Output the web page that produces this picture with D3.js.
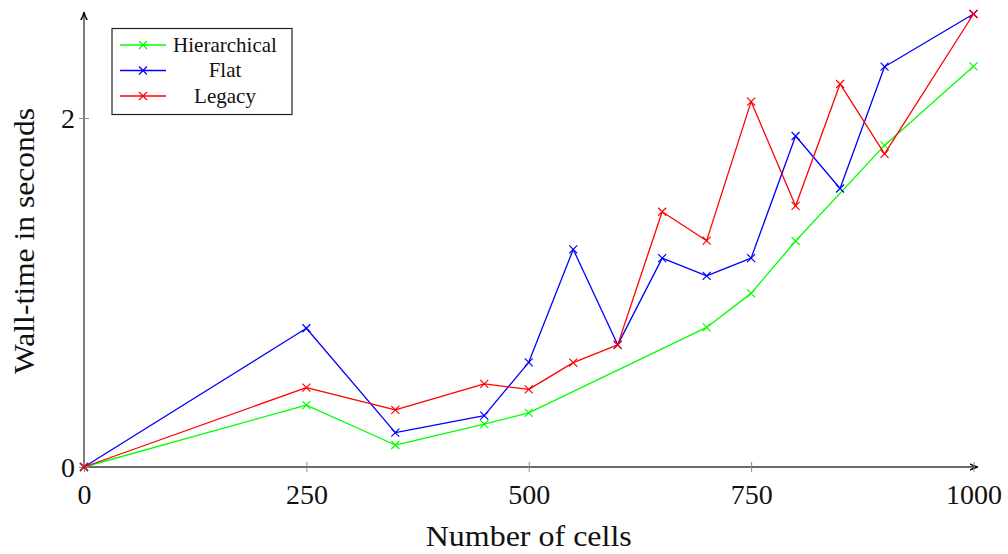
<!DOCTYPE html>
<html>
<head>
<meta charset="utf-8">
<script src="https://cdn.jsdelivr.net/npm/d3@7"></script>
<style>
  html, body { margin: 0; padding: 0; background: #fff; }
  svg { display: block; font-family: "Liberation Serif", "DejaVu Serif", serif; }
</style>
</head>
<body>
<svg id="chart" width="1008" height="554"></svg>
<script>
// Wall-time measurements (seconds) against number of cells
const hierarchicalCells = [0, 250, 350, 450, 500, 700, 750, 800, 900, 1000];
const hierarchicalTime  = [0, 0.355, 0.126, 0.246, 0.31, 0.80, 0.995, 1.295, 1.843, 2.296];

const flatCells = [0, 250, 350, 450, 500, 550, 600, 650, 700, 750, 800, 850, 900, 1000];
const flatTime  = [0, 0.795, 0.197, 0.294, 0.60, 1.247, 0.70, 1.197, 1.095, 1.197, 1.897, 1.596, 2.294, 2.596];

const legacyCells = [0, 250, 350, 450, 500, 550, 600, 650, 700, 750, 800, 850, 900, 1000];
const legacyTime  = [0, 0.455, 0.327, 0.476, 0.445, 0.598, 0.70, 1.463, 1.297, 2.094, 1.496, 2.195, 1.794, 2.596];

const seriesNames  = ["Hierarchical", "Flat", "Legacy"];
const seriesColors = ["#00ff00", "#0000ff", "#ff0000"];

const xTicks = [0, 250, 500, 750, 1000];
const yTicks = [0, 2];

const series = [
  { name: seriesNames[0], color: seriesColors[0], xs: hierarchicalCells, ys: hierarchicalTime },
  { name: seriesNames[1], color: seriesColors[1], xs: flatCells, ys: flatTime },
  { name: seriesNames[2], color: seriesColors[2], xs: legacyCells, ys: legacyTime }
];

const svg = d3.select("#chart");
const x = d3.scaleLinear().domain([0, 1000]).range([84, 973.5]);
const y = d3.scaleLinear().domain([0, 2]).range([467, 118]);
const axisColor = "#3a3a3a";
const fmt = d3.format("d");

// Axes lines with arrow heads
const defs = svg.append("defs");
defs.append("marker")
  .attr("id", "arrow")
  .attr("viewBox", "0 0 10 10")
  .attr("refX", 9).attr("refY", 5)
  .attr("markerWidth", 8).attr("markerHeight", 8)
  .attr("markerUnits", "userSpaceOnUse")
  .attr("orient", "auto")
  .append("path")
  .attr("d", "M0,1 Q5,4 10,5 Q5,6 0,9")
  .attr("fill", "none")
  .attr("stroke", "#000")
  .attr("stroke-width", 1.8);

svg.append("line")
  .attr("x1", x(0)).attr("y1", y(0))
  .attr("x2", 977).attr("y2", y(0))
  .attr("stroke", axisColor).attr("stroke-width", 1.3)
  .attr("marker-end", "url(#arrow)");

svg.append("line")
  .attr("x1", x(0)).attr("y1", y(0))
  .attr("x2", x(0)).attr("y2", 13)
  .attr("stroke", axisColor).attr("stroke-width", 1.3)
  .attr("marker-end", "url(#arrow)");

// X ticks and labels
const xAxis = d3.axisBottom(x).tickValues(xTicks).tickFormat(fmt)
  .tickSizeInner(0).tickSizeOuter(0).tickPadding(0);
const gx = svg.append("g").attr("transform", `translate(0,${y(0)})`).call(xAxis);
gx.select(".domain").remove();
gx.selectAll(".tick line").remove();
gx.selectAll(".tick").append("line")
  .attr("y1", -5).attr("y2", 5)
  .attr("stroke", "#8a8a8a").attr("stroke-width", 1);
gx.selectAll(".tick text")
  .attr("y", 37).attr("dy", null)
  .attr("fill", "#111")
  .attr("font-size", 28)
  .attr("font-family", "Liberation Serif, serif");

// Y ticks and labels
const yAxis = d3.axisLeft(y).tickValues(yTicks).tickFormat(fmt)
  .tickSizeInner(0).tickSizeOuter(0).tickPadding(0);
const gy = svg.append("g").attr("transform", `translate(${x(0)},0)`).call(yAxis);
gy.select(".domain").remove();
gy.selectAll(".tick line").remove();
gy.selectAll(".tick").append("line")
  .attr("x1", -5).attr("x2", 5)
  .attr("stroke", "#8a8a8a").attr("stroke-width", 1);
gy.selectAll(".tick text")
  .attr("x", -9).attr("dy", "0.35em")
  .attr("fill", "#111")
  .attr("font-size", 28)
  .attr("font-family", "Liberation Serif, serif");

// Axis titles
svg.append("text")
  .attr("x", (x(0) + x(1000)) / 2).attr("y", 546)
  .attr("text-anchor", "middle")
  .attr("font-size", 29)
  .attr("textLength", 206)
  .attr("lengthAdjust", "spacingAndGlyphs")
  .attr("fill", "#111")
  .text("Number of cells");

svg.append("text")
  .attr("transform", "translate(34,241) rotate(-90)")
  .attr("text-anchor", "middle")
  .attr("font-size", 29)
  .attr("textLength", 266)
  .attr("lengthAdjust", "spacingAndGlyphs")
  .attr("fill", "#111")
  .text("Wall-time in seconds");

// Data series
const line = d3.line().x(d => x(d[0])).y(d => y(d[1]));
const crossPath = s => `M${-s},${-s}L${s},${s}M${-s},${s}L${s},${-s}`;

series.forEach(s => {
  const pts = s.xs.map((v, i) => [v, s.ys[i]]);
  const g = svg.append("g");
  g.append("path")
    .datum(pts)
    .attr("d", line)
    .attr("fill", "none")
    .attr("stroke", s.color)
    .attr("stroke-width", 1.3)
    .attr("stroke-linejoin", "round");
  g.selectAll("path.mk")
    .data(pts)
    .join("path")
    .attr("class", "mk")
    .attr("transform", d => `translate(${x(d[0])},${y(d[1])})`)
    .attr("d", crossPath(4))
    .attr("stroke", s.color)
    .attr("stroke-width", 1.2)
    .attr("fill", "none");
});

// Legend
const legend = svg.append("g");
legend.append("rect")
  .attr("x", 112).attr("y", 28.5)
  .attr("width", 180).attr("height", 86)
  .attr("fill", "#fff")
  .attr("stroke", "#222").attr("stroke-width", 1.2);

series.forEach((s, i) => {
  const cy = 45 + i * 25.5;
  legend.append("line")
    .attr("x1", 120).attr("x2", 166)
    .attr("y1", cy).attr("y2", cy)
    .attr("stroke", s.color).attr("stroke-width", 1.3);
  legend.append("path")
    .attr("transform", `translate(143,${cy})`)
    .attr("d", crossPath(4))
    .attr("stroke", s.color).attr("stroke-width", 1.2);
  legend.append("text")
    .attr("x", 225).attr("y", cy)
    .attr("dy", "0.33em")
    .attr("text-anchor", "middle")
    .attr("font-size", 21)
    .attr("fill", "#111")
    .text(s.name);
});
</script>
</body>
</html>
